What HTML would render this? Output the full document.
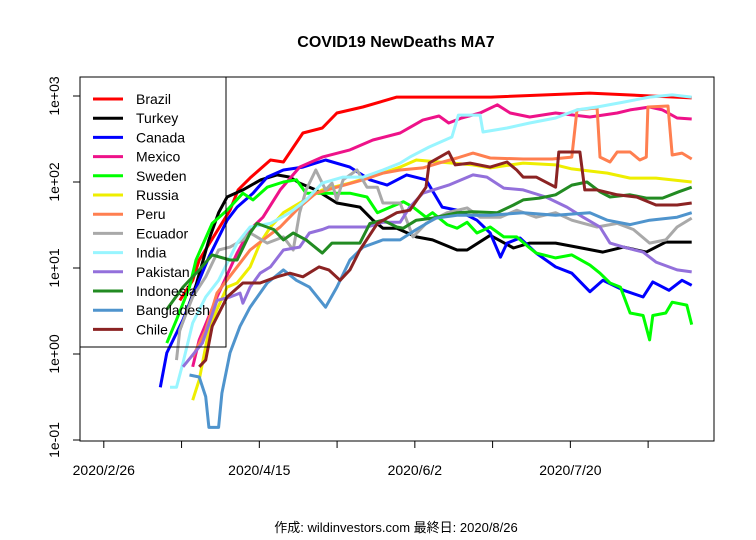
<!DOCTYPE html>
<html><head><meta charset="utf-8">
<style>
html,body{margin:0;padding:0;background:#fff;}
svg{display:block;font-family:"Liberation Sans","Noto Sans CJK JP",sans-serif;}
</style></head>
<body>
<svg id="chart" width="756" height="540" viewBox="0 0 756 540" xmlns="http://www.w3.org/2000/svg">
<rect x="0" y="0" width="756" height="540" fill="#fff"/>
<text x="396" y="47" text-anchor="middle" font-size="16" font-weight="bold">COVID19 NewDeaths MA7</text>
<text x="396" y="532" text-anchor="middle" font-size="13">作成: wildinvestors.com 最終日: 2020/8/26</text>
<g id="series"></g>
<g id="axes"></g>
<g id="legend"></g>
</svg>
<script>
// Y axis ticks (log scale)
const yTickValues = [0.1, 1, 10, 100, 1000];
const yTickLabels = ["1e-01", "1e+00", "1e+01", "1e+02", "1e+03"];
// X axis ticks: days since 2020/2/26
const xTickDays = [0, 24, 48, 72, 96, 120, 144, 168];
const xTickLabels = ["2020/2/26", "", "2020/4/15", "", "2020/6/2", "", "2020/7/20", ""];

const seriesNames = ["Brazil","Turkey","Canada","Mexico","Sweden","Russia","Peru","Ecuador","India","Pakistan","Indonesia","Bangladesh","Chile"];

const brazilDays = [24,28,30,39.5,42,46,52,56,62,68,72.5,80.5,91,120,150.5,182];
const brazilVals = [4.2,7.2,12.4,47,81,114,180,171,371,425,635,745,970,970,1080,950];

const turkeyDays = [24,29,33,36,38.6,43.5,49,54,58,61,66,72.5,79.6,83.6,86.7,91,97,102,109.6,112.7,119.8,127,132,140,146.6,154.6,161,168,174,182];
const turkeyVals = [1.9,6.3,21.2,44,67,81,106,121,114,97,81,57,51,36,29,29,23,21.2,16.2,16.2,24,17.1,19.5,19.5,17.5,15.3,17.5,15.3,20,20];

const canadaDays = [18,20,25,30,33,38.6,41.7,46.6,51,56,62,69,76.5,82.7,88,94,100,105,109.6,115.7,119.8,123,125,129,134,140,145,150.6,154.6,161,167,170,175,179,182];
const canadaVals = [0.41,1.03,2.5,7.2,13.4,36,51,74,114,138,149,180,149,106,92,121,106,51,47,36,25.5,13.4,19.5,22.3,14.9,10.3,8.7,5.3,7.2,5.5,4.6,6.9,5.5,7.2,6.3];

const mexicoDays = [28,30,35.5,41.7,45.7,49.7,55,61,68,76.5,83.6,92,99,104,107,111,116.7,122,126,132,140,150.6,159,163,169,173,177.5,182];
const mexicoVals = [0.71,1.46,4.6,14.9,28,39,81,149,195,236,308,371,525,585,485,555,635,790,635,570,635,570,635,690,745,690,555,540];

const swedenDays = [20,23,27,29,34,38.6,43.5,46.6,51,56,60,63,69,76.5,81.8,85,89,93,96,100,102,106.5,109.6,112.7,115.7,119.8,124,128,132,134,140,145,150.6,153.7,156.8,160,163,167,169,170,174,176,180.5,182];
const swedenVals = [1.34,2.5,6.0,12.4,33,47,74,62,87,100,106,74,74,74,67,44,51,59,51,39,44,32,29,34,25.5,30,23,23,17.1,14.9,13.1,14.2,10.8,8.7,6.7,6.0,3.0,2.8,1.46,2.8,3.0,4.0,3.7,2.2];

const russiaDays = [28,30,33,35.5,38.6,41.7,45.7,48.8,52,56,61,68,76.5,86.7,92,97,104,114.5,119.8,130,140,145,156,163,171,182];
const russiaVals = [0.29,0.50,1.9,3.3,6.0,6.7,10.3,19.5,30,44,57,81,97,127,149,180,171,158,146,166,158,142,127,111,111,100];

const peruDays = [28,32,35.5,41.7,45.7,49.7,55,61,66,72.5,80.6,86.7,92,99,104,109.6,114.5,119.8,130,139,145,146.6,152.8,153.7,156.8,159,163,166,168,168.5,174.7,176,179,182];
const peruVals = [0.92,1.9,5.1,10.3,16.2,21.2,30,51,74,87,106,127,138,146,166,190,217,190,185,185,195,690,725,195,171,223,223,180,195,745,765,206,217,185];

const ecuadorDays = [23,24,28,32,36,39.5,43.5,45.7,47.8,51,56,59,61,63,66,69,71,72.5,74.4,78.7,81.8,85,86.7,92,96,100,106.5,112.7,116.7,123,128,134,140,145,152.8,159,164,169,174,177.5,182];
const ecuadorVals = [0.85,1.9,4.6,7.9,16.2,17.5,21.2,25.5,23,19.5,23,16.2,44,81,138,81,97,62,106,138,87,87,57,57,23,33,44,50,39,39,47,39,44,36,30,33,28,19.5,21.2,30,38];

const indiaDays = [21,23,25,28,32,36,41.7,45.7,52,58,63,68,74.4,80.6,86.7,92,95,101,108,110,116.7,117.6,125,132,140,146.6,152.8,161,169,176,182];
const indiaVals = [0.41,0.41,0.79,2.3,4.6,7.2,19.5,30,33,44,62,97,114,114,138,166,195,255,334,600,600,381,425,485,555,690,745,850,970,1030,970];

const pakistanDays = [25,31,35.5,39.5,42.6,43.5,45.7,48.8,52,56,61,64,68,70,81.8,86.7,92,95,99,107,114.5,118.8,124,130,137,143.5,148.5,153.7,156.8,161,167,171,177.5,182];
const pakistanVals = [0.71,1.34,4.2,4.6,5.1,3.9,6.0,8.7,10.3,16.2,17.5,25.5,28,30,30,34,34,51,74,92,121,114,85,81,67,51,39,30,19.5,17.5,15.3,11.7,9.5,9.0];

const indonesiaDays = [20,25,30,34,39.5,41.7,45.7,47.8,53,56,59,63,68,71,79.6,82.7,86.7,91,93,97,102,109.6,114.5,122,127,130,135,140,145,149.7,153.7,156.8,163,168,173,178,182];
const indonesiaVals = [3.3,6.0,9.5,14.2,12.4,12.4,25.5,33,28,21.2,25.5,21.2,14.9,19.5,19.5,33,36,30,29,36,38,44,45,44,54,62,65,71,92,100,77,67,71,65,65,77,87];

const bangladeshDays = [27,30,32,33,36,37,39.5,42.6,45.7,51,56,60,64,69,72.5,76.5,80.6,86.7,92,97,103,109.6,119.8,130,140,150.6,156,163,169,177.5,182];
const bangladeshVals = [0.57,0.54,0.32,0.14,0.14,0.35,1.03,2.1,3.5,6.7,9.5,7.2,6.0,3.5,6.0,12.4,17.5,21.2,21.2,28,38,41,41,44,41,44,36,32,36,39,44];

const chileDays = [30,32,34,38.6,43.5,48.8,54,58,62,67,70,73.5,76.5,79.6,85,91,95,100,101,107,109,113.6,119.8,125,128,130,134,140,141,147.5,149,152.8,159,165,171,177.5,182];
const chileVals = [0.71,0.85,2.1,4.6,6.7,6.7,7.9,8.7,7.9,10.3,9.5,7.2,9.5,16.2,33,44,47,87,166,223,158,166,149,171,138,114,114,87,223,223,81,81,71,67,54,54,57];

const NS = "http://www.w3.org/2000/svg";
const plot = {left: 80, right: 714, top: 77, bottom: 441};
function xScale(d) { return 102 + d * 3.24; }
function yScale(v) { return 354 - 86 * Math.log10(v); }

const colors = ["#ff0000","#000000","#0000ff","#ee1289","#00ff00","#eeee00","#ff7f50","#a9a9a9","#98f5ff","#9370db","#228b22","#4f94cd","#8b2323"];
const allDays = [brazilDays,turkeyDays,canadaDays,mexicoDays,swedenDays,russiaDays,peruDays,ecuadorDays,indiaDays,pakistanDays,indonesiaDays,bangladeshDays,chileDays];
const allVals = [brazilVals,turkeyVals,canadaVals,mexicoVals,swedenVals,russiaVals,peruVals,ecuadorVals,indiaVals,pakistanVals,indonesiaVals,bangladeshVals,chileVals];

const sg = document.getElementById("series");
for (let i = 0; i < seriesNames.length; i++) {
  const pts = allDays[i].map((d, j) => xScale(d).toFixed(1) + "," + yScale(allVals[i][j]).toFixed(1)).join(" ");
  const pl = document.createElementNS(NS, "polyline");
  pl.setAttribute("points", pts);
  pl.setAttribute("fill", "none");
  pl.setAttribute("stroke", colors[i]);
  pl.setAttribute("stroke-width", "3");
  pl.setAttribute("stroke-linejoin", "round");
  
  
  sg.appendChild(pl);
}

const ag = document.getElementById("axes");
const box = document.createElementNS(NS, "rect");
box.setAttribute("x", plot.left); box.setAttribute("y", plot.top);
box.setAttribute("width", plot.right - plot.left); box.setAttribute("height", plot.bottom - plot.top);
box.setAttribute("fill", "none"); box.setAttribute("stroke", "#000"); box.setAttribute("stroke-width", "1");


ag.appendChild(box);

yTickValues.forEach((v, i) => {
  const y = yScale(v);
  const t = document.createElementNS(NS, "line");
  t.setAttribute("x1", plot.left - 7); t.setAttribute("x2", plot.left);
  t.setAttribute("y1", y); t.setAttribute("y2", y);
  t.setAttribute("stroke", "#000");
  
  
  ag.appendChild(t);
  const lb = document.createElementNS(NS, "text");
  lb.setAttribute("transform", "translate(" + (plot.left - 21) + "," + y + ") rotate(-90)");
  lb.setAttribute("text-anchor", "middle");
  lb.setAttribute("font-size", "14");
  lb.textContent = yTickLabels[i];
  
  
  ag.appendChild(lb);
});

xTickDays.forEach((d, i) => {
  const x = 103.8 + d * 3.24;
  const t = document.createElementNS(NS, "line");
  t.setAttribute("x1", x); t.setAttribute("x2", x);
  t.setAttribute("y1", plot.bottom); t.setAttribute("y2", plot.bottom + 7);
  t.setAttribute("stroke", "#000");
  
  
  ag.appendChild(t);
  if (xTickLabels[i]) {
    const lb = document.createElementNS(NS, "text");
    lb.setAttribute("x", x); lb.setAttribute("y", 475);
    lb.setAttribute("text-anchor", "middle");
    lb.setAttribute("font-size", "14");
    lb.textContent = xTickLabels[i];
    
    
    ag.appendChild(lb);
  }
});

const lg = document.getElementById("legend");
const lbox = document.createElementNS(NS, "rect");
lbox.setAttribute("x", plot.left); lbox.setAttribute("y", plot.top);
lbox.setAttribute("width", 146); lbox.setAttribute("height", 270);
lbox.setAttribute("fill", "none"); lbox.setAttribute("stroke", "#000");


lg.appendChild(lbox);
seriesNames.forEach((n, i) => {
  const y = 99 + i * 19.2;
  const g = document.createElementNS(NS, "g");
  
  
  const ln = document.createElementNS(NS, "line");
  ln.setAttribute("x1", 93); ln.setAttribute("x2", 123);
  ln.setAttribute("y1", y); ln.setAttribute("y2", y);
  ln.setAttribute("stroke", colors[i]); ln.setAttribute("stroke-width", "3");
  
  
  g.appendChild(ln);
  const tx = document.createElementNS(NS, "text");
  tx.setAttribute("x", 136); tx.setAttribute("y", y + 5);
  tx.setAttribute("font-size", "14");
  tx.textContent = n;
  
  
  g.appendChild(tx);
  lg.appendChild(g);
});
</script>
</body></html>
